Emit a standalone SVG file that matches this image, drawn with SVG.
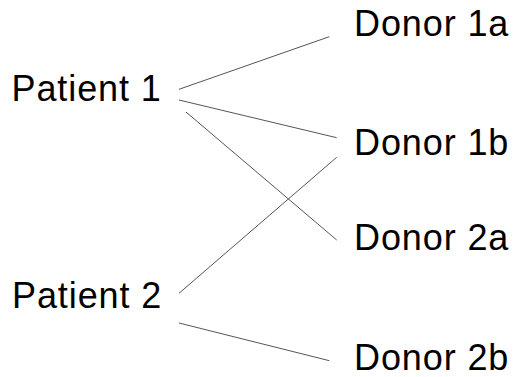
<svg xmlns="http://www.w3.org/2000/svg" width="522" height="377" viewBox="0 0 522 377">
<style>
text{font-family:"Liberation Sans",Arial,sans-serif;font-size:36px;letter-spacing:0.9px;fill:#000}
.c line{stroke:#555;stroke-width:1}
</style>
<rect width="522" height="377" fill="#fff"/>
<g class="c" id="connectors">
<line x1="179" y1="89.3" x2="329.3" y2="36.7"/>
<line x1="179" y1="100" x2="336.7" y2="137.7"/>
<line x1="186" y1="112" x2="336.7" y2="240"/>
<line x1="179" y1="293.3" x2="336.7" y2="157.3"/>
<line x1="179" y1="323" x2="329.3" y2="360.7"/>
</g>
<g id="patient1"><text x="11.5" y="101">Patient 1</text></g>
<g id="patient2"><text x="12" y="307.5">Patient 2</text></g>
<g id="donor1a"><text x="354" y="35.7">Donor 1a</text></g>
<g id="donor1b"><text x="354" y="155">Donor 1b</text></g>
<g id="donor2a"><text x="354" y="250">Donor 2a</text></g>
<g id="donor2b"><text x="354" y="370">Donor 2b</text></g>
</svg>
